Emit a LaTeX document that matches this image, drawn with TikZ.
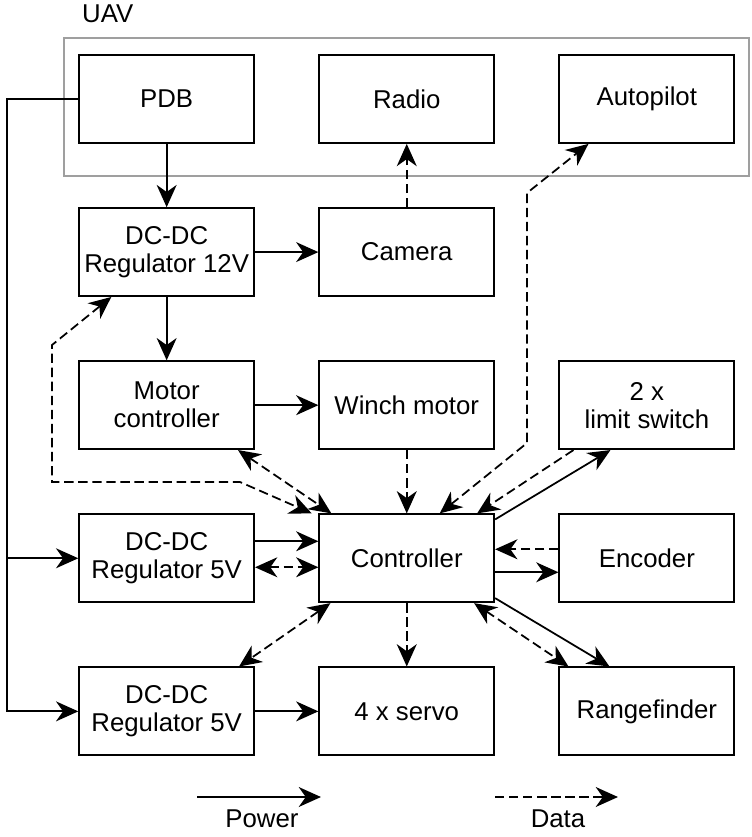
\documentclass[tikz,border=0pt]{standalone}
\usepackage{fontspec}
\setmainfont{Liberation Sans}
\usetikzlibrary{arrows.meta,positioning,calc}

\begin{document}
\begin{tikzpicture}[node distance=1.9cm and 1.9cm,
    blk/.style={draw,line width=1.5pt,minimum width=5.25cm,minimum height=2.64cm,inner sep=2pt,align=center,font=\fontsize{22}{24}\selectfont},
    lbl/.style={inner sep=2pt,font=\fontsize{22}{24}\selectfont},
    pwr/.style={line width=1.5pt,-{Stealth[length=19pt,width=17pt,inset=6pt]}},
    dat/.style={line width=1.5pt,dash pattern=on 8pt off 4pt,-{Stealth[length=19pt,width=17pt,inset=6pt]}},
    dat2/.style={dat,{Stealth[length=19pt,width=17pt,inset=6pt]}-{Stealth[length=19pt,width=17pt,inset=6pt]}},
    frame/.style={draw=gray!75,line width=1.3pt}]
    \useasboundingbox (0,0) rectangle (22.53,-25.11);
    % Blocks
    \node[blk] (pdb) at (5.0,-2.97) {PDB};
    \node[blk,right=of pdb] (radio) {Radio};
    \node[blk,right=of radio] (ap) {Autopilot};
    \node[blk,below=of pdb] (reg12) {DC-DC\\Regulator 12V};
    \node[blk,right=of reg12] (cam) {Camera};
    \node[blk,below=of reg12] (mc) {Motor\\controller};
    \node[blk,right=of mc] (winch) {Winch motor};
    \node[blk,right=of winch] (lim) {2 x\\limit switch};
    \node[blk,below=of mc] (reg5a) {DC-DC\\Regulator 5V};
    \node[blk,right=of reg5a] (ctrl) {Controller};
    \node[blk,right=of ctrl] (enc) {Encoder};
    \node[blk,below=of reg5a] (reg5b) {DC-DC\\Regulator 5V};
    \node[blk,right=of reg5b] (servo) {4 x servo};
    \node[blk,right=of servo] (rng) {Rangefinder};
    % UAV frame
    \draw[frame] ([shift={(-0.425cm,0.48cm)}]pdb.north west) rectangle ([shift={(0.415cm,-0.96cm)}]ap.south east);
    \node[lbl,anchor=west] (uav) at (2.39,-0.42) {UAV};
    % Power
    \coordinate (busx) at (0.21,0);
    \draw[pwr] (pdb.west) -- (pdb.west -| busx) |- (reg5b.west);
    \draw[pwr] (reg5a.west -| busx) -- (reg5a.west);
    \draw[pwr] (pdb) -- (reg12);
    \draw[pwr] (reg12) -- (cam);
    \draw[pwr] (reg12) -- (mc);
    \draw[pwr] (mc) -- (winch);
    \draw[pwr] ([yshift=0.51cm]reg5a.east) -- ([yshift=0.51cm]reg5a.east -| ctrl.west);
    \draw[pwr] ([yshift=-0.42cm]ctrl.east) -- ([yshift=-0.42cm]ctrl.east -| enc.west);
    \draw[pwr] ([yshift=-0.18cm]ctrl.north east) -- ([xshift=1.56cm]lim.south west);
    \draw[pwr] ([yshift=0.15cm]ctrl.south east) -- ([xshift=1.53cm]rng.north west);
    \draw[pwr] (reg5b) -- (servo);
    % Data
    \draw[dat] (cam) -- (radio);
    \draw[dat] (winch) -- (ctrl);
    \draw[dat] (ctrl) -- (servo);
    \draw[dat] ([yshift=0.27cm]enc.west) -- ([yshift=0.27cm]enc.west -| ctrl.east);
    \draw[dat] ([xshift=0.45cm]lim.south west) -- ([xshift=-0.54cm]ctrl.north east);
    \draw[dat2] ([yshift=-0.27cm]reg5a.east) -- ([yshift=-0.27cm]reg5a.east -| ctrl.west);
    \draw[dat2] ([xshift=-0.51cm]mc.south east) -- ([xshift=0.39cm]ctrl.north west);
    \draw[dat2] ([xshift=0.36cm]ctrl.south west) -- ([xshift=-0.48cm]reg5b.north east);
    \draw[dat2] ([xshift=-0.63cm]ctrl.south east) -- ([xshift=0.3cm]rng.north west);
    \coordinate (apb1) at (15.81,-13.29);
    \coordinate (apb2) at (15.81,-5.79);
    \draw[dat2] ([xshift=0.99cm]ctrl.north) -- (apb1) -- (apb2) -- ([xshift=0.9cm]ap.south west);
    \coordinate (lp1) at (1.56,-10.35);
    \coordinate (lp2) at (1.56,-14.46);
    \coordinate (lp3) at (7.2,-14.46);
    \draw[dat2] ([xshift=0.99cm]reg12.south west) -- (lp1) -- (lp2) -- (lp3) -- ([xshift=-0.2cm]ctrl.north west);
    % Legend
    \coordinate (pw1) at (5.91,-23.91);
    \coordinate (pw2) at (9.63,-23.91);
    \coordinate (dt1) at (14.85,-23.91);
    \coordinate (dt2) at (18.54,-23.91);
    \draw[pwr] (pw1) -- (pw2);
    \draw[dat] (dt1) -- (dt2);
    \node[lbl] (pwlbl) at (7.86,-24.55) {Power};
    \node[lbl] (dtlbl) at (16.74,-24.55) {Data};
\end{tikzpicture}
\end{document}
